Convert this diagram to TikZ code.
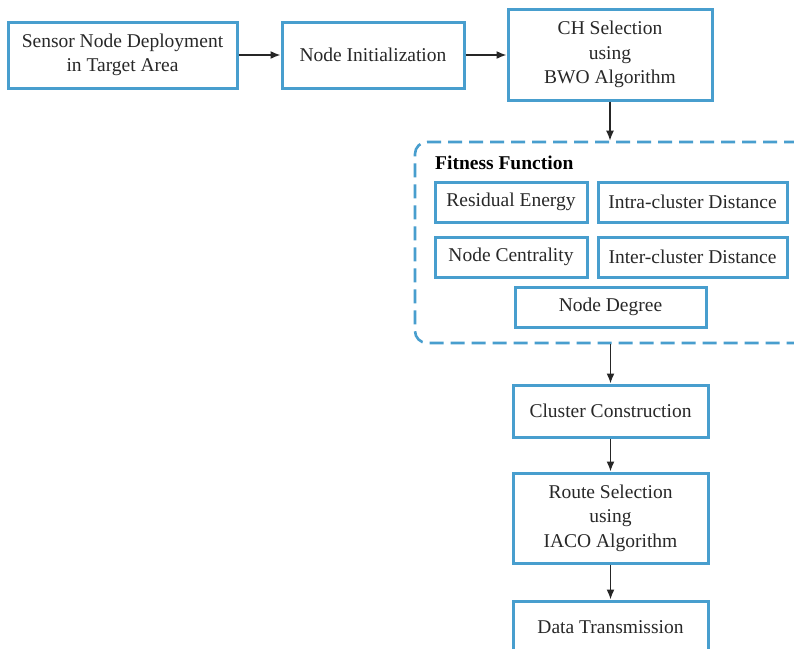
\documentclass[tikz,border=0pt]{standalone}
\usepackage{fontspec}
\setmainfont{Liberation Serif}
\usetikzlibrary{arrows.meta}
\definecolor{boxblue}{RGB}{72,158,206}
\definecolor{txt}{RGB}{40,40,40}
\tikzset{
  box/.style={draw=boxblue, line width=3pt, fill=white, text=txt, align=center,
    font=\fontsize{19.5}{24.5}\selectfont, inner sep=0pt},
  frame/.style={draw=boxblue, line width=2.6pt, dash pattern=on 14pt off 7pt, rounded corners=12pt, inner sep=0pt},
  arr/.style={draw=black!85, line width=1.6pt, -{Latex[length=10pt,width=8pt]}}
}
\begin{document}
\begin{tikzpicture}[x=1pt,y=-1pt]
\useasboundingbox (0,0) rectangle (794,648);
\clip (0,0) rectangle (794,648);
\fill[white] (0,0) rectangle (794,648);
\node[box, minimum width=229pt, minimum height=66pt] (b1) at (122.5,55) {Sensor Node Deployment\\in Target Area};
\node[box, minimum width=182pt, minimum height=66pt] (b2) at (373,55) {Node Initialization};
\node[box, minimum width=204pt, minimum height=91pt] (b3) at (610,54.5) {CH Selection\\using\\BWO Algorithm};
\node[frame, minimum width=395pt, minimum height=201pt] (ff) at (612.5,242.5) {};
\node[anchor=west, text=black, font=\fontsize{19.5}{24}\selectfont\bfseries, inner sep=0pt] (fl) at (435,163) {Fitness Function};
\node[box, minimum width=152pt, minimum height=40pt] (re) at (511,202) {Residual Energy};
\node[box, minimum width=189pt, minimum height=40pt] (ia) at (692.5,202) {Intra-cluster Distance};
\node[box, minimum width=152pt, minimum height=40pt] (nc) at (511,257) {Node Centrality};
\node[box, minimum width=189pt, minimum height=40pt] (ie) at (692.5,257) {Inter-cluster Distance};
\node[box, minimum width=191pt, minimum height=40pt] (nd) at (610.5,307) {Node Degree};
\node[box, minimum width=195pt, minimum height=52pt] (cc) at (610.5,411) {Cluster Construction};
\node[box, minimum width=195pt, minimum height=90pt] (rs) at (610.5,518) {Route Selection\\using\\IACO Algorithm};
\node[box, minimum width=195pt, minimum height=52pt] (dt) at (610.5,627) {Data Transmission};
\draw[arr] (b1.east) -- (b2.west);
\draw[arr] (b2.east) -- (b2.east -| b3.west);
\draw[arr] (b3.south) -- (b3.south |- ff.north);
\draw[arr] (cc.north |- ff.south) -- (cc.north);
\draw[arr] (cc.south) -- (rs.north);
\draw[arr] (rs.south) -- (dt.north);
\end{tikzpicture}
\end{document}
